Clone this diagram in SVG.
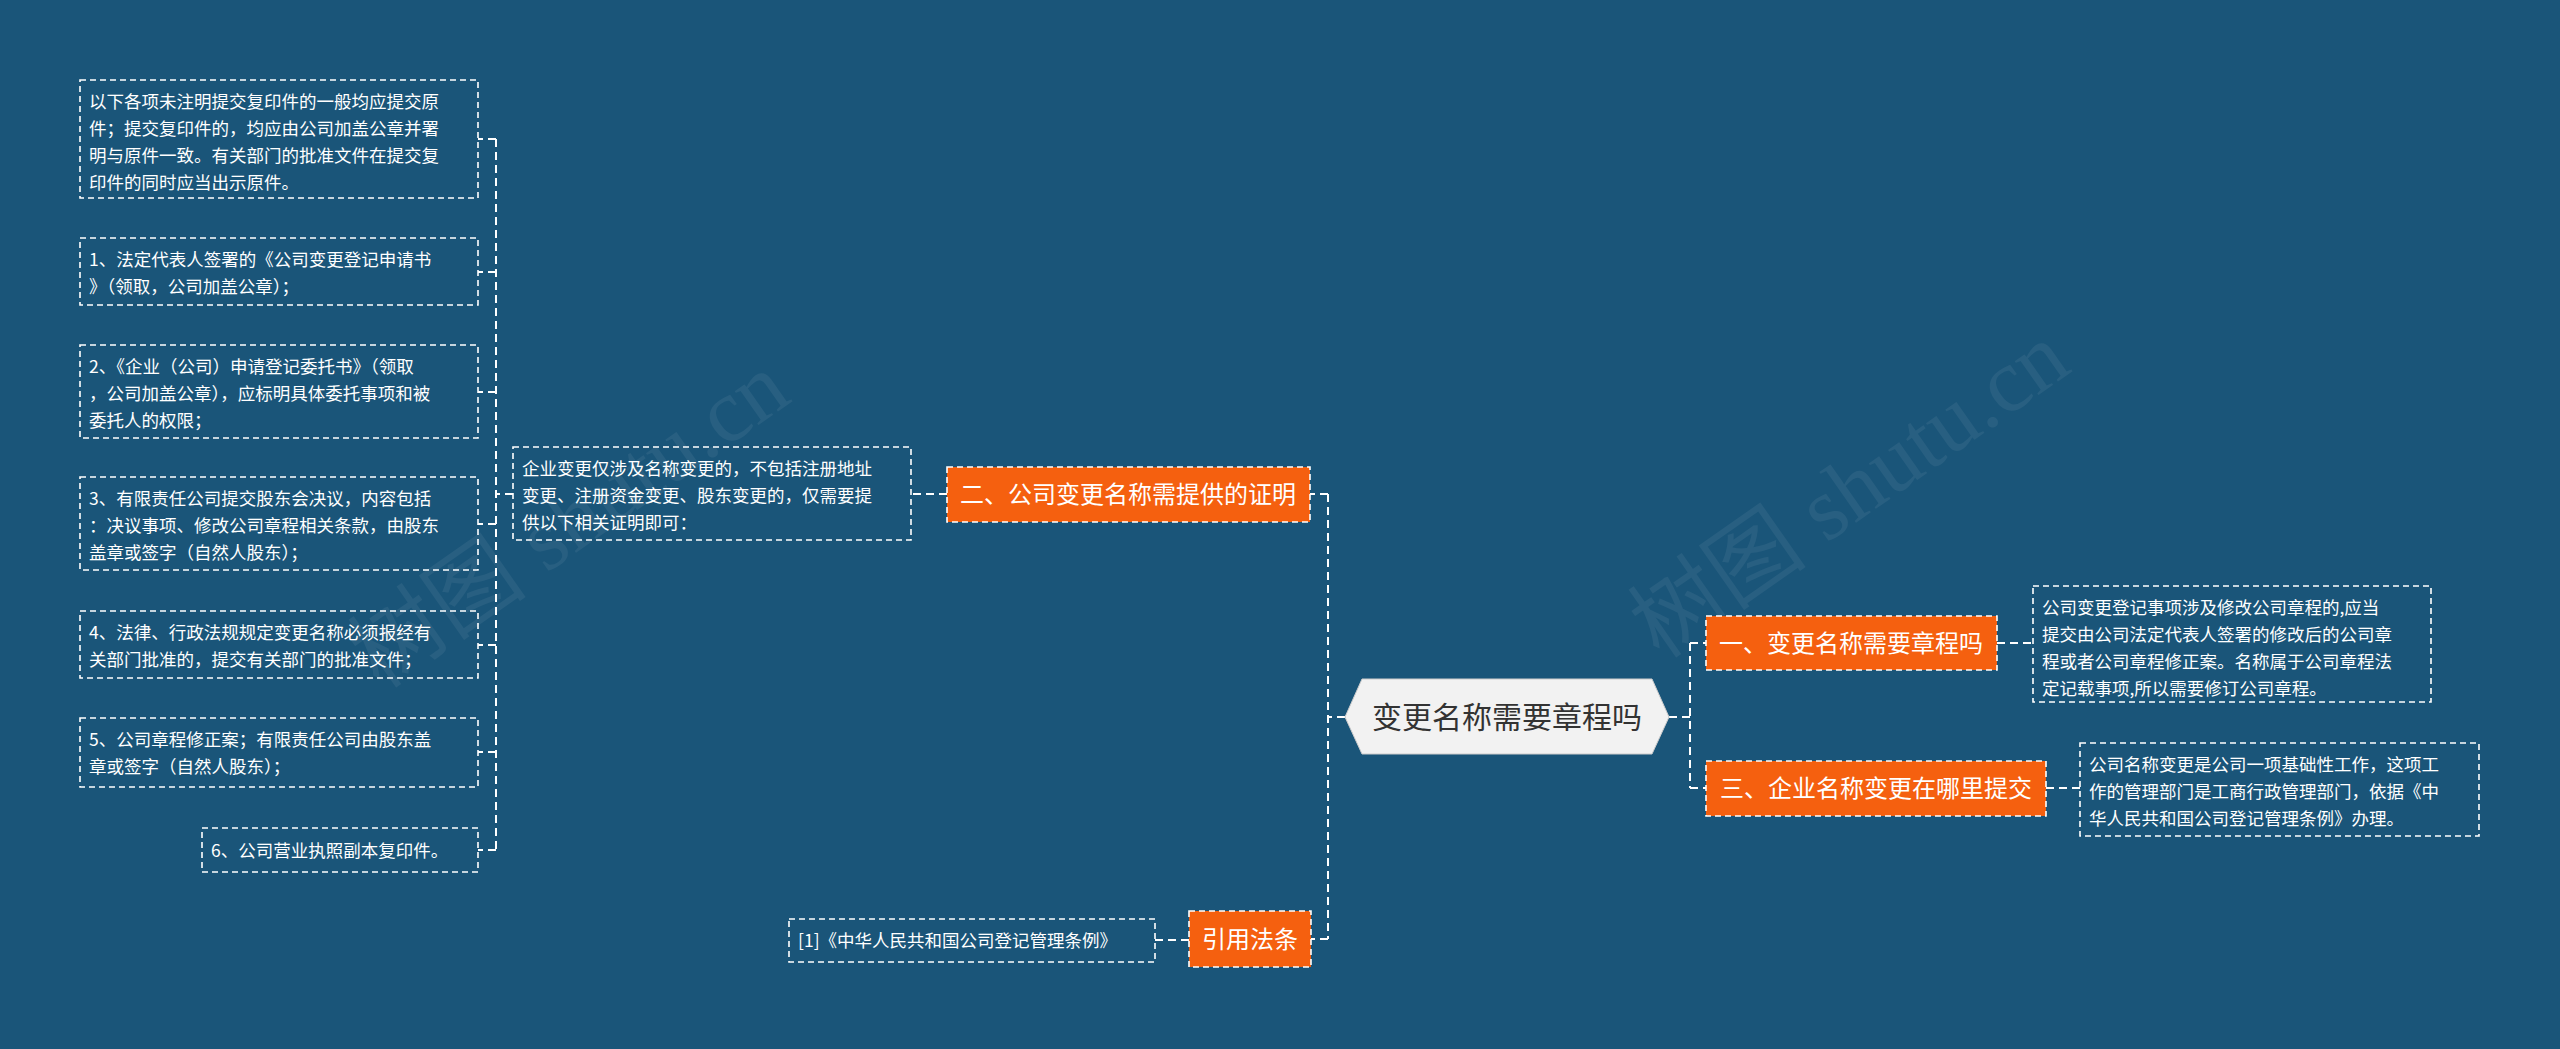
<svg xmlns="http://www.w3.org/2000/svg" width="2560" height="1049" viewBox="0 0 2560 1049">
<style>
.leaf{fill:none;stroke:#fff;stroke-width:1.6;stroke-dasharray:6 4}
.lt{font-family:"Noto Sans CJK SC","Liberation Sans",sans-serif;font-size:17.5px;fill:#fff}
.br{fill:#f5600f;stroke:#fff;stroke-width:1.6;stroke-dasharray:6 4}
.bt{font-family:"Noto Sans CJK SC","Liberation Sans",sans-serif;font-size:24px;fill:#fff}
.c{fill:none;stroke:#fff;stroke-width:2;stroke-dasharray:8 5}
.wm{font-family:"Liberation Serif","Noto Sans CJK SC",serif;font-size:90px;fill:#fff;opacity:0.06}
</style>
<rect width="2560" height="1049" fill="#1a5579"/>
<text class="wm" transform="translate(380,690) rotate(-35)">树图 shutu.cn</text>
<text class="wm" transform="translate(1660,660) rotate(-35)">树图 shutu.cn</text>
<g id="connectors">
<path class="c" d="M1345 717H1328M1328 494V939M1328 494H1310M1328 939H1311"/>
<path class="c" d="M1669 717H1690M1690 643V788M1690 643H1706M1690 788H1706"/>
<path class="c" d="M1997 643H2033M2046 788H2080M947 494H911M1189 940H1155"/>
<path class="c" d="M513 494H496M496 139V850M496 139H478M496 272H478M496 392H478M496 524H478M496 645H478M496 752H478M496 850H478"/>
</g>
<g id="center">
<path d="M1362 679H1652L1669 717L1652 754H1362L1345 717Z" fill="#f2f2f2" stroke="#ccc" stroke-width="1"/>
<text x="1507" y="728" text-anchor="middle" font-family="Noto Sans CJK SC,Liberation Sans,sans-serif" font-size="30" fill="#333">变更名称需要章程吗</text>
</g>
<g id="b2"><rect class="br" x="947" y="467" width="363" height="55"/><text class="bt" x="1128" y="503" text-anchor="middle">二、公司变更名称需提供的证明</text></g>
<g id="b1"><rect class="br" x="1706" y="616" width="291" height="54"/><text class="bt" x="1851" y="652" text-anchor="middle">一、变更名称需要章程吗</text></g>
<g id="b3"><rect class="br" x="1706" y="761" width="340" height="55"/><text class="bt" x="1876" y="797" text-anchor="middle">三、企业名称变更在哪里提交</text></g>
<g id="b4"><rect class="br" x="1189" y="911" width="122" height="56"/><text class="bt" x="1250" y="948" text-anchor="middle">引用法条</text></g>
<g id="r1"><rect class="leaf" x="2033" y="586" width="398" height="116"/><text class="lt"><tspan x="2042" y="614">公司变更登记事项涉及修改公司章程的,应当</tspan><tspan x="2042" y="641">提交由公司法定代表人签署的修改后的公司章</tspan><tspan x="2042" y="668">程或者公司章程修正案。名称属于公司章程法</tspan><tspan x="2042" y="695">定记载事项,所以需要修订公司章程。</tspan></text></g>
<g id="r2"><rect class="leaf" x="2080" y="743" width="399" height="93"/><text class="lt"><tspan x="2089" y="771">公司名称变更是公司一项基础性工作，这项工</tspan><tspan x="2089" y="798">作的管理部门是工商行政管理部门，依据《中</tspan><tspan x="2089" y="825">华人民共和国公司登记管理条例》办理。</tspan></text></g>
<g id="m1"><rect class="leaf" x="513" y="447" width="398" height="93"/><text class="lt"><tspan x="522" y="475">企业变更仅涉及名称变更的，不包括注册地址</tspan><tspan x="522" y="502">变更、注册资金变更、股东变更的，仅需要提</tspan><tspan x="522" y="529">供以下相关证明即可：</tspan></text></g>
<g id="ref"><rect class="leaf" x="789" y="919" width="366" height="43"/><text class="lt" x="798" y="947">[1]《中华人民共和国公司登记管理条例》</text></g>
<g id="la"><rect class="leaf" x="80" y="80" width="398" height="118"/><text class="lt"><tspan x="89" y="108">以下各项未注明提交复印件的一般均应提交原</tspan><tspan x="89" y="135">件；提交复印件的，均应由公司加盖公章并署</tspan><tspan x="89" y="162">明与原件一致。有关部门的批准文件在提交复</tspan><tspan x="89" y="189">印件的同时应当出示原件。</tspan></text></g>
<g id="lb"><rect class="leaf" x="80" y="238" width="398" height="67"/><text class="lt"><tspan x="89" y="266">1、法定代表人签署的《公司变更登记申请书</tspan><tspan x="89" y="293">》（领取，公司加盖公章）；</tspan></text></g>
<g id="lc"><rect class="leaf" x="80" y="345" width="398" height="93"/><text class="lt"><tspan x="89" y="373">2、《企业（公司）申请登记委托书》（领取</tspan><tspan x="89" y="400">，公司加盖公章），应标明具体委托事项和被</tspan><tspan x="89" y="427">委托人的权限；</tspan></text></g>
<g id="ld"><rect class="leaf" x="80" y="477" width="398" height="93"/><text class="lt"><tspan x="89" y="505">3、有限责任公司提交股东会决议，内容包括</tspan><tspan x="89" y="532">：决议事项、修改公司章程相关条款，由股东</tspan><tspan x="89" y="559">盖章或签字（自然人股东）；</tspan></text></g>
<g id="le"><rect class="leaf" x="80" y="611" width="398" height="67"/><text class="lt"><tspan x="89" y="639">4、法律、行政法规规定变更名称必须报经有</tspan><tspan x="89" y="666">关部门批准的，提交有关部门的批准文件；</tspan></text></g>
<g id="lf"><rect class="leaf" x="80" y="718" width="398" height="69"/><text class="lt"><tspan x="89" y="746">5、公司章程修正案；有限责任公司由股东盖</tspan><tspan x="89" y="773">章或签字（自然人股东）；</tspan></text></g>
<g id="lg"><rect class="leaf" x="202" y="828" width="276" height="44"/><text class="lt" x="211" y="857">6、公司营业执照副本复印件。</text></g>
</svg>
